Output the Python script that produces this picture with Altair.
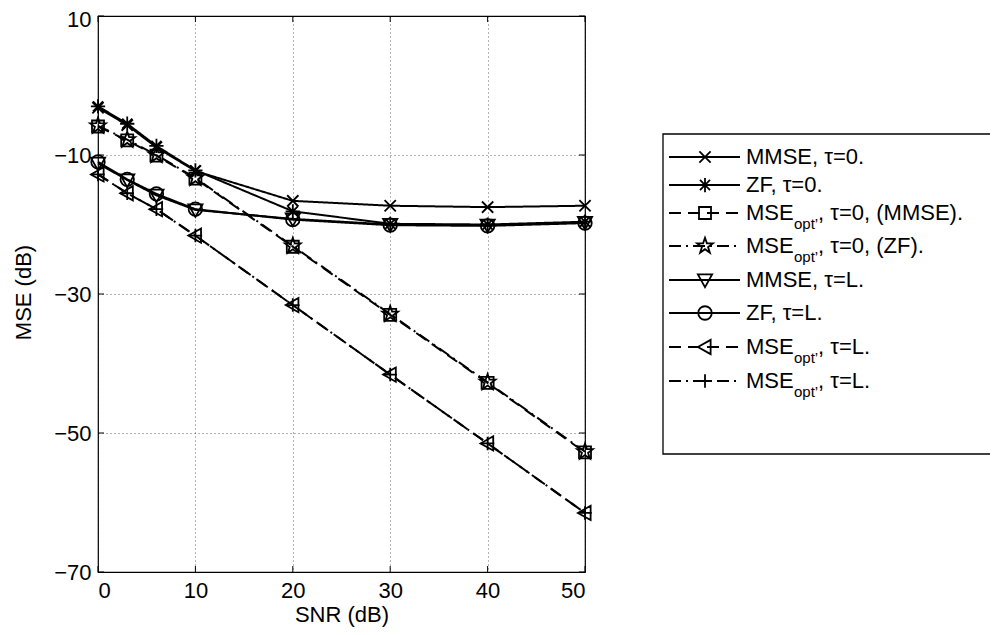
import math
import altair as alt
import pandas as pd

# ---------------- data ----------------
snr = [0, 3, 6, 10, 20, 30, 40, 50]
mmse_tau0 = [-3.2, -5.7, -8.9, -12.3, -16.6, -17.3, -17.5, -17.3]
zf_tau0 = [-3.0, -5.5, -8.7, -12.2, -18.1, -19.9, -20.0, -19.6]
mseopt_tau0_mmse = [-5.9, -7.9, -10.1, -13.4, -23.2, -33.0, -42.8, -52.8]
mseopt_tau0_zf = [-5.8, -7.8, -10.0, -13.3, -23.1, -32.9, -42.7, -52.7]
mmse_tauL = [-11.2, -13.6, -15.8, -17.9, -19.2, -20.0, -20.1, -19.7]
zf_tauL = [-11.0, -13.5, -15.6, -17.8, -19.3, -20.1, -20.2, -19.8]
mseopt_tauL_a = [-12.8, -15.5, -17.8, -21.6, -31.6, -41.6, -51.5, -61.5]
mseopt_tauL_b = [-12.8, -15.5, -17.8, -21.6, -31.6, -41.6, -51.5, -61.5]

series_keys = ["mmse_t0", "zf_t0", "opt_t0_mmse", "opt_t0_zf",
               "mmse_tL", "zf_tL", "opt_tL_a", "opt_tL_b"]
series_values = [mmse_tau0, zf_tau0, mseopt_tau0_mmse, mseopt_tau0_zf,
                 mmse_tauL, zf_tauL, mseopt_tauL_a, mseopt_tauL_b]

legend_main = ["MMSE, τ=0.", "ZF, τ=0.", "MSE", "MSE",
               "MMSE, τ=L.", "ZF, τ=L.", "MSE", "MSE"]
legend_sub = ["", "", "opt’", "opt’", "", "", "opt’", "opt’"]
legend_tail = ["", "", ", τ=0, (MMSE).", ", τ=0, (ZF).", "", "", ", τ=L.", ", τ=L."]

x_ticks = [0, 10, 20, 30, 40, 50]
y_ticks = [-70, -50, -30, -10, 10]

# ---------------- styles ----------------
FONT = "Liberation Sans"
FS = 22
W, H = 487, 556

SOLID = [1, 0]
DASHED = [12, 7]
DASHDOT = [12, 5, 2, 5]
dash_range = [SOLID, SOLID, DASHED, DASHDOT, SOLID, SOLID, DASHED, DASHDOT]


def poly(pts):
    return "M" + "L".join(f"{x:.3f},{y:.3f}" for x, y in pts) + "Z"


star_pts = []
for k in range(10):
    a = -math.pi / 2 + k * math.pi / 5
    r = 1.1 if k % 2 == 0 else 0.43
    star_pts.append((r * math.cos(a), r * math.sin(a)))

shape_range = [
    "M-0.75,-0.75L0.75,0.75M-0.75,0.75L0.75,-0.75",                      # x
    "M-0.95,0L0.95,0M0,-0.95L0,0.95M-0.67,-0.67L0.67,0.67M-0.67,0.67L0.67,-0.67",  # *
    poly([(-0.8, -0.8), (0.8, -0.8), (0.8, 0.8), (-0.8, 0.8)]),          # square
    poly(star_pts),                                                       # pentagram
    poly([(-0.95, -0.75), (0.95, -0.75), (0, 0.95)]),                     # v
    "M0.9,0A0.9,0.9,0,1,1,-0.9,0A0.9,0.9,0,1,1,0.9,0Z",                   # o
    poly([(-0.95, 0), (0.75, -0.95), (0.75, 0.95)]),                      # <
    "M-0.9,0L0.9,0M0,-0.9L0,0.9",                                        # +
]
MARK_SIZE = 225

# ---------------- tables ----------------
rows = []
for key, vals in zip(series_keys, series_values):
    for s, v in zip(snr, vals):
        rows.append({"series": key, "snr": s, "mse": v})
df = pd.DataFrame(rows)

legend_rows_y = [141, 169, 197, 230, 264, 297, 331, 365]
df_leg = pd.DataFrame({
    "series": series_keys,
    "ly": legend_rows_y,
    "t_main": legend_main,
    "t_sub": legend_sub,
    "t_tail": legend_tail,
})

df_xt = pd.DataFrame({"v": x_ticks})
df_yt = pd.DataFrame({"v": y_ticks})
df_one = pd.DataFrame({"a": [0]})

dash_enc = alt.StrokeDash("series:N", scale=alt.Scale(domain=series_keys, range=dash_range), legend=None)
shape_enc = alt.Shape("series:N", scale=alt.Scale(domain=series_keys, range=shape_range), legend=None)

x_enc = alt.X("snr:Q", scale=alt.Scale(domain=[0, 50], nice=False),
              axis=alt.Axis(values=x_ticks, title="SNR (dB)", format="d",
                            labelPadding=8, titlePadding=3))
y_enc = alt.Y("mse:Q", scale=alt.Scale(domain=[-70, 10], nice=False),
              axis=alt.Axis(values=y_ticks, title="MSE (dB)", format="d",
                            labelPadding=7,
                            titleX=-75, titleY=H / 2 - 2, titleAngle=270,
                            titleAlign="center", titleBaseline="middle",
                            labelOffset=alt.condition("datum.value == 10", alt.value(3), alt.value(0))))

lines = alt.Chart(df).mark_line(color="black", strokeWidth=2).encode(
    x=x_enc, y=y_enc, detail="series:N", strokeDash=dash_enc)

points = alt.Chart(df).mark_point(color="black", filled=False, strokeWidth=1.8, size=MARK_SIZE, opacity=1).encode(
    x="snr:Q", y="mse:Q", shape=shape_enc)

# inward ticks (MATLAB style)
xt_bottom = alt.Chart(df_xt).mark_rule(color="black", strokeWidth=1).encode(
    x="v:Q", y=alt.value(H), y2=alt.value(H - 6))
xt_top = alt.Chart(df_xt).mark_rule(color="black", strokeWidth=1).encode(
    x="v:Q", y=alt.value(0), y2=alt.value(6))
yt_left = alt.Chart(df_yt).mark_rule(color="black", strokeWidth=1).encode(
    y="v:Q", x=alt.value(0), x2=alt.value(6))
yt_right = alt.Chart(df_yt).mark_rule(color="black", strokeWidth=1).encode(
    y="v:Q", x=alt.value(W), x2=alt.value(W - 6))

# custom legend
leg_box = alt.Chart(df_one).mark_rect(fill="white", stroke="black", strokeWidth=1.3).encode(
    x=alt.value(565), x2=alt.value(930), y=alt.value(118), y2=alt.value(438))
leg_lines = alt.Chart(df_leg).mark_rule(color="black", strokeWidth=2).encode(
    x=alt.value(571), x2=alt.value(642), y=alt.Y("ly:Q", scale=None), strokeDash=dash_enc)
leg_points = alt.Chart(df_leg).mark_point(color="black", filled=False, strokeWidth=1.8, size=MARK_SIZE, opacity=1).encode(
    x=alt.value(607), y=alt.Y("ly:Q", scale=None), shape=shape_enc)
leg_text = alt.Chart(df_leg).mark_text(align="left", baseline="middle", font=FONT, fontSize=FS, color="black").encode(
    x=alt.value(648), y=alt.Y("ly:Q", scale=None), text="t_main:N")
leg_sub = alt.Chart(df_leg).transform_filter("datum.t_sub != ''").mark_text(
    align="left", baseline="middle", font=FONT, fontSize=15, dy=11, color="black").encode(
    x=alt.value(696), y=alt.Y("ly:Q", scale=None), text="t_sub:N")
leg_tail = alt.Chart(df_leg).transform_filter("datum.t_tail != ''").mark_text(
    align="left", baseline="middle", font=FONT, fontSize=FS, color="black").encode(
    x=alt.value(720), y=alt.Y("ly:Q", scale=None), text="t_tail:N")

chart = alt.layer(
    lines, points, xt_bottom, xt_top, yt_left, yt_right,
    leg_box, leg_lines, leg_points, leg_text, leg_sub, leg_tail,
).properties(
    width=W, height=H,
    autosize=alt.AutoSizeParams(type="none"),
    padding={"left": 90, "top": 8, "right": 405, "bottom": 62},
).configure_view(
    stroke="black", strokeWidth=1.2
).configure_axis(
    labelFont=FONT, labelFontSize=FS, labelColor="black",
    titleFont=FONT, titleFontSize=FS, titleFontWeight="normal", titleColor="black",
    grid=True, gridColor="black", gridDash=[1, 3], gridOpacity=0.6, gridWidth=1,
    ticks=False, domain=False,
)

chart.save("out.html", embed_options={"renderer": "svg", "actions": False})
